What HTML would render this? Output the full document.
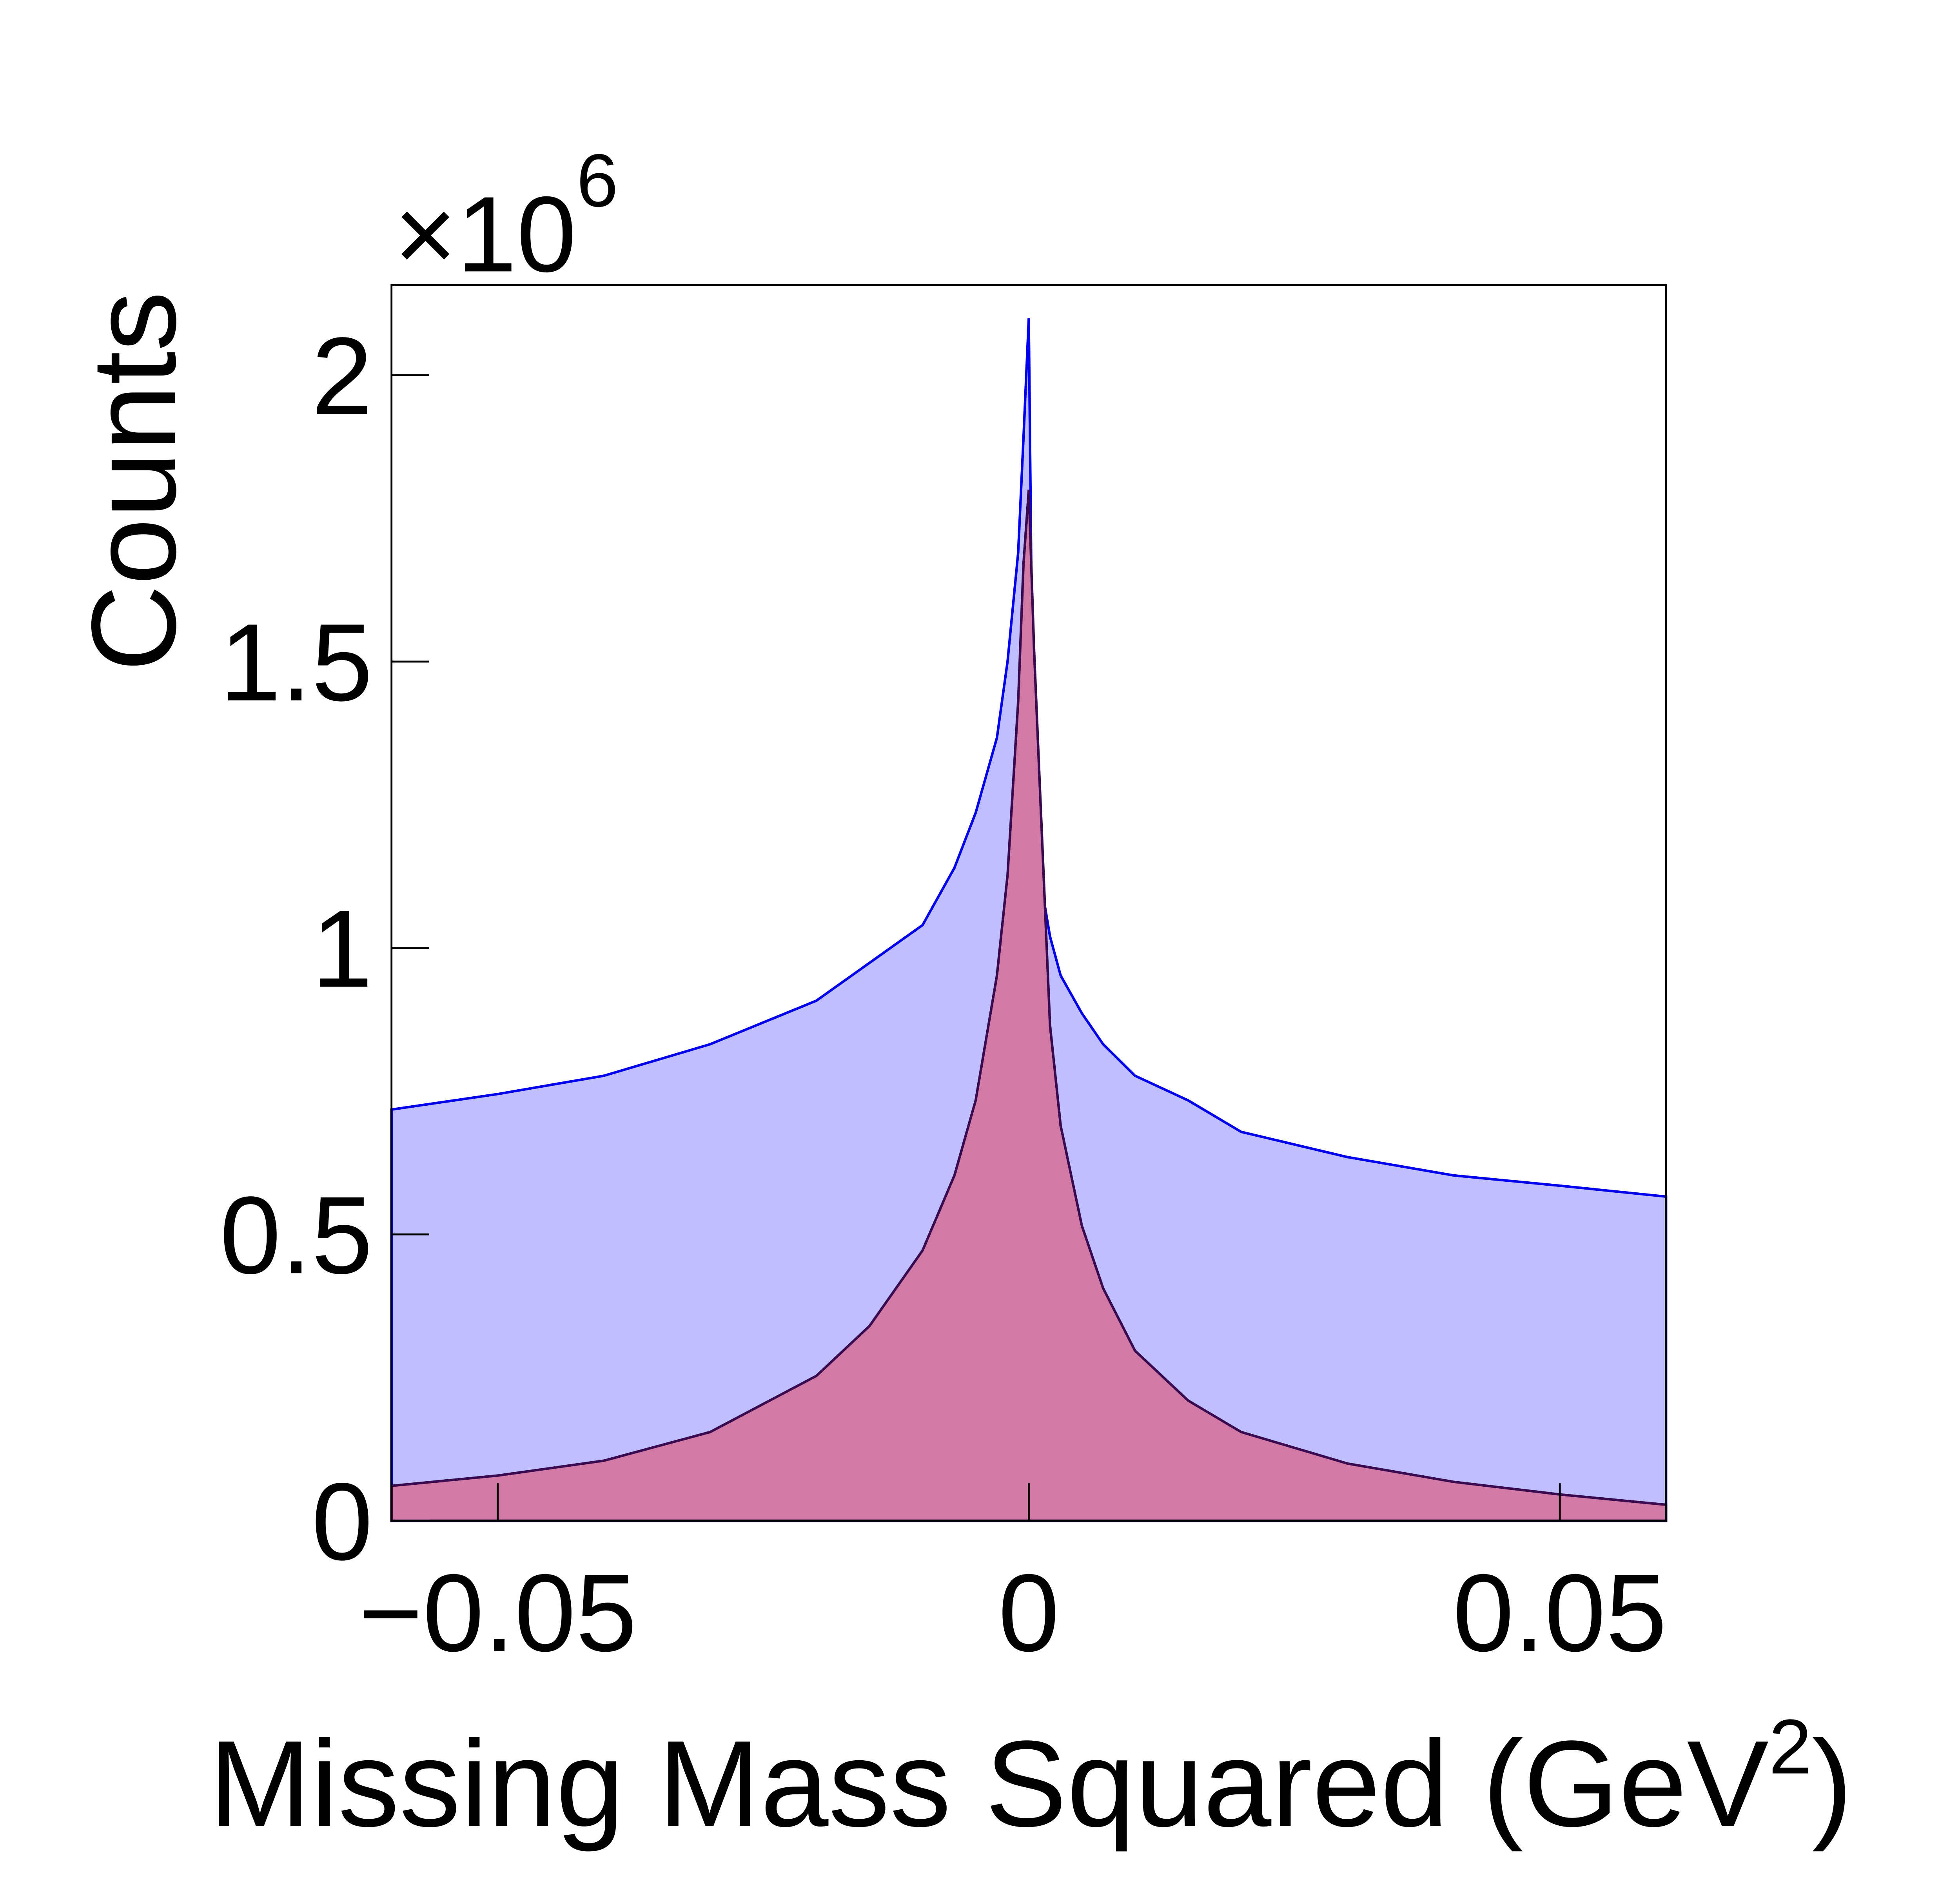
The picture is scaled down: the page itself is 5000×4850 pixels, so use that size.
<!DOCTYPE html>
<html><head><meta charset="utf-8"><style>
html,body{margin:0;padding:0;background:#fff;}
svg{display:block;}
text{font-family:"Liberation Sans",sans-serif;fill:#000;}
</style></head><body>
<svg id="chart" width="5000" height="4850" viewBox="0 0 1567 1520" xmlns="http://www.w3.org/2000/svg">
<rect x="0" y="0" width="1567" height="1520" fill="#fff"/>
<g id="marks"></g>
<rect x="313" y="228" width="1019" height="988" fill="none" stroke="#000" stroke-width="1.5"/>
<g id="ticks"></g>
<text x="315" y="217" font-size="86">×10<tspan dy="-52" font-size="60">6</tspan></text>
<text transform="translate(140,385) rotate(-90)" text-anchor="middle" font-size="96">Counts</text>
<text x="824" y="1460" text-anchor="middle" font-size="98">Missing Mass Squared (GeV<tspan dy="-42" font-size="62">2</tspan><tspan dy="42">)</tspan></text>
</svg>
<script>
const blueX=[-0.06,-0.05,-0.04,-0.03,-0.02,-0.015,-0.01,-0.007,-0.005,-0.003,-0.002,-0.001,-0.0005,0,0.0005,0.001,0.002,0.003,0.005,0.007,0.01,0.015,0.02,0.03,0.04,0.05,0.06];
const blueY=[0.718,0.745,0.777,0.832,0.908,0.974,1.04,1.14,1.236,1.367,1.50,1.69,1.89,2.10,1.17,1.13,1.02,0.952,0.886,0.832,0.777,0.734,0.679,0.635,0.603,0.585,0.566];
const redX=[-0.06,-0.05,-0.04,-0.03,-0.02,-0.015,-0.01,-0.007,-0.005,-0.003,-0.002,-0.001,-0.0005,0,0.0005,0.001,0.002,0.003,0.005,0.007,0.01,0.015,0.02,0.03,0.04,0.05,0.06];
const redY=[0.061,0.079,0.105,0.155,0.253,0.34,0.472,0.603,0.734,0.952,1.127,1.43,1.67,1.80,1.52,1.30,0.865,0.69,0.515,0.406,0.297,0.21,0.155,0.10,0.068,0.046,0.028];
const yTicks=[0,0.5,1,1.5,2];
const yTickLabels=["0","0.5","1","1.5","2"];
const xTicks=[-0.05,0,0.05];
const xTickLabels=["\u22120.05","0","0.05"];

const X0=313,X1=1332,Y0=1216,Y1=228,xmin=-0.06,xmax=0.06,ymax=(1216-228)/458;
const sx=v=>X0+(v-xmin)/(xmax-xmin)*(X1-X0);
const sy=v=>Y0-v/ymax*(Y0-Y1);
const NS="http://www.w3.org/2000/svg";
function linePath(xs,ys){
  let d="M"+sx(xs[0])+","+Y0;
  for(let i=0;i<xs.length;i++) d+=" L"+sx(xs[i])+","+sy(ys[i]);
  return d+" L"+sx(xs[xs.length-1])+","+Y0+" Z";
}
const marks=document.getElementById('marks');
const b=document.createElementNS(NS,'path');
b.setAttribute('d',linePath(blueX,blueY));
b.setAttribute('fill','#bfbffd');b.setAttribute('stroke','#0000ee');b.setAttribute('stroke-width','2');


marks.appendChild(b);
const r=document.createElementNS(NS,'path');
r.setAttribute('d',linePath(redX,redY));
r.setAttribute('fill','#d27aa6');r.setAttribute('stroke','#3a0a50');r.setAttribute('stroke-width','2');


marks.appendChild(r);
const ticks=document.getElementById('ticks');
yTicks.forEach((v,i)=>{
  const l=document.createElementNS(NS,'line');
  l.setAttribute('x1',X0);l.setAttribute('x2',X0+30);l.setAttribute('y1',sy(v));l.setAttribute('y2',sy(v));
  l.setAttribute('stroke','#000');l.setAttribute('stroke-width','1.5');
  
  
  ticks.appendChild(l);
  const t=document.createElementNS(NS,'text');
  t.setAttribute('x',298);t.setAttribute('y',sy(v)+31);t.setAttribute('text-anchor','end');t.setAttribute('font-size','88');
  t.textContent=yTickLabels[i];
  
  
  ticks.appendChild(t);
});
xTicks.forEach((v,i)=>{
  const l=document.createElementNS(NS,'line');
  l.setAttribute('x1',sx(v));l.setAttribute('x2',sx(v));l.setAttribute('y1',Y0);l.setAttribute('y2',Y0-30);
  l.setAttribute('stroke','#000');l.setAttribute('stroke-width','1.5');
  
  
  ticks.appendChild(l);
  const t=document.createElementNS(NS,'text');
  t.setAttribute('x',sx(v));t.setAttribute('y',1320);t.setAttribute('text-anchor','middle');t.setAttribute('font-size','88');
  t.textContent=xTickLabels[i];
  
  
  ticks.appendChild(t);
});
</script>
</body></html>
